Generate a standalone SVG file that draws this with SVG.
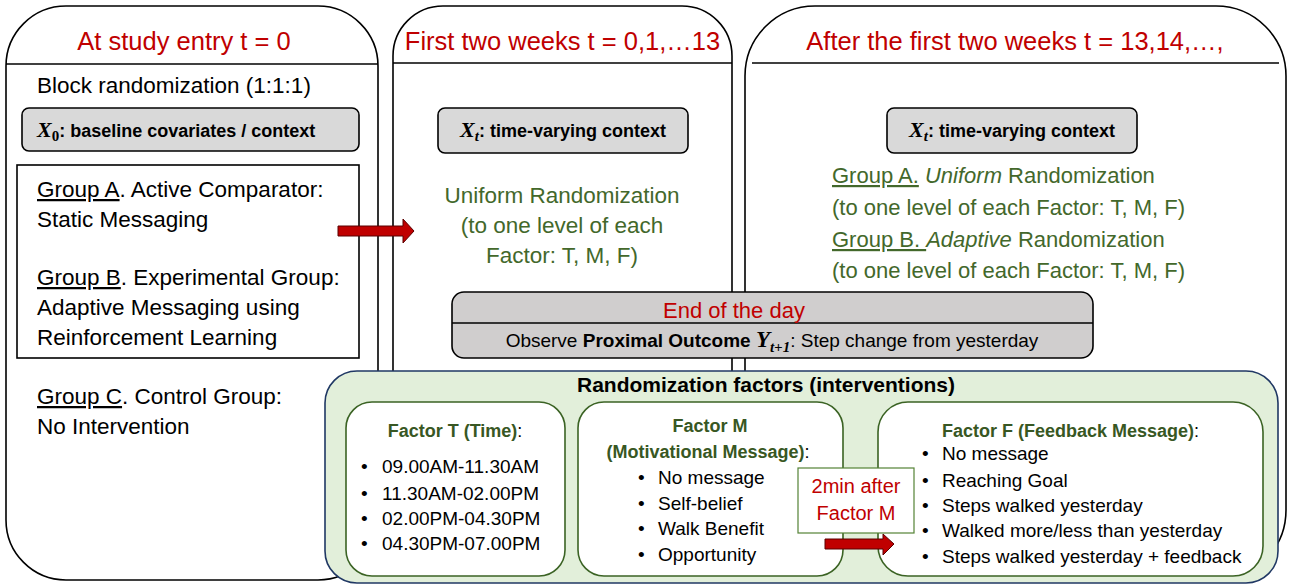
<svg xmlns="http://www.w3.org/2000/svg" width="1295" height="585" viewBox="0 0 1295 585">
<style>
text{font-family:"Liberation Sans",Arial,sans-serif;fill:#000}
.panel{fill:none;stroke:#000;stroke-width:1.6}
.hline{stroke:#000;stroke-width:1.6}
.title{font-size:25.5px;fill:#C00000}
.body{font-size:22.5px}
.gbox{fill:#D9D9D9;stroke:#000;stroke-width:1.6}
.gb{font-size:18px;font-weight:bold}
.math{font-family:"Liberation Serif","Times New Roman",serif;font-weight:bold;font-style:italic}
.sub{font-size:15px}
.grn{fill:#43682B}
.u{text-decoration:underline}
.fbox{fill:#fff;stroke:#3B6324;stroke-width:1.6}
.ft{font-size:18px;font-weight:bold;fill:#385723}
.li{font-size:19px}
.red{fill:#C00000}
.arrow{fill:#C00000;stroke:#5a0000;stroke-width:1}
</style>

<g id="panel-entry">
  <rect class="panel" x="6" y="6" width="372" height="574" rx="60"/>
  <line class="hline" x1="6" y1="64" x2="378" y2="64"/>
  <text class="title" x="184" y="50" text-anchor="middle">At study entry t = 0</text>
  <text class="body" x="37" y="93">Block randomization (1:1:1)</text>
  <rect class="gbox" x="22" y="108" width="337" height="43" rx="7"/>
  <text class="gb" x="37" y="137"><tspan class="math" font-size="22px">X</tspan><tspan class="sub" font-family="Liberation Serif,serif" dy="4">0</tspan><tspan dy="-4">: baseline covariates / context</tspan></text>
  <rect x="17" y="165" width="342" height="193" fill="none" stroke="#000" stroke-width="1.6"/>
  <text class="body" x="37" y="197"><tspan class="u">Group A</tspan>. Active Comparator:</text>
  <text class="body" x="37" y="227">Static Messaging</text>
  <text class="body" x="37" y="285"><tspan class="u">Group B</tspan>. Experimental Group:</text>
  <text class="body" x="37" y="315">Adaptive Messaging using</text>
  <text class="body" x="37" y="345">Reinforcement Learning</text>
  <text class="body" x="37" y="404"><tspan class="u">Group C</tspan>. Control Group:</text>
  <text class="body" x="37" y="434">No Intervention</text>
</g>

<g id="panel-first-two-weeks">
  <rect class="panel" x="393" y="6" width="339" height="574" rx="50"/>
  <line class="hline" x1="393" y1="63" x2="732" y2="63"/>
  <text class="title" x="562.5" y="50" text-anchor="middle">First two weeks t = 0,1,…13</text>
  <rect class="gbox" x="438" y="108" width="250" height="45" rx="7"/>
  <text class="gb" x="563" y="137" text-anchor="middle"><tspan class="math" font-size="22px">X</tspan><tspan class="math sub" dy="4">t</tspan><tspan dy="-4">: time-varying context</tspan></text>
  <text class="body grn" x="562" y="203" text-anchor="middle">Uniform Randomization</text>
  <text class="body grn" x="562" y="233" text-anchor="middle">(to one level of each</text>
  <text class="body grn" x="562" y="263" text-anchor="middle">Factor: T, M, F)</text>
</g>

<g id="panel-after-two-weeks">
  <rect class="panel" x="745" y="6" width="541" height="574" rx="70"/>
  <line class="hline" x1="752" y1="63" x2="1279" y2="63"/>
  <text class="title" x="1015" y="50" text-anchor="middle">After the first two weeks t = 13,14,…,</text>
  <rect class="gbox" x="887" y="108" width="250" height="45" rx="7"/>
  <text class="gb" x="1012" y="137" text-anchor="middle"><tspan class="math" font-size="22px">X</tspan><tspan class="math sub" dy="4">t</tspan><tspan dy="-4">: time-varying context</tspan></text>
  <text class="grn" font-size="22px" x="832" y="183"><tspan class="u">Group A.</tspan> <tspan font-style="italic">Uniform</tspan> Randomization</text>
  <text class="grn" font-size="22px" x="832" y="215">(to one level of each Factor: T, M, F)</text>
  <text class="grn" font-size="22px" x="832" y="247"><tspan class="u">Group B. </tspan><tspan font-style="italic">Adaptive</tspan> Randomization</text>
  <text class="grn" font-size="22px" x="832" y="278">(to one level of each Factor: T, M, F)</text>
</g>

<g id="end-of-day">
  <rect x="452" y="292" width="641" height="66" rx="12" fill="#D0CECE" stroke="#000" stroke-width="1.6"/>
  <line class="hline" x1="452" y1="323" x2="1093" y2="323"/>
  <text class="red" font-size="22px" x="663" y="318">End of the day</text>
  <text font-size="19px" x="772" y="347" text-anchor="middle">Observe <tspan font-weight="bold">Proximal Outcome </tspan><tspan class="math" font-size="23px">Y</tspan><tspan class="math" font-size="15px" dy="5">t+1</tspan><tspan dy="-5">: Step change from yesterday</tspan></text>
</g>

<g id="randomization-factors">
  <rect x="325" y="371" width="953" height="212" rx="32" fill="#E2EFDA" stroke="#203864" stroke-width="1.6"/>
  <text font-size="21px" font-weight="bold" x="766" y="392" text-anchor="middle">Randomization factors (interventions)</text>
</g>

<g id="factor-t">
  <rect class="fbox" x="346" y="402" width="219" height="174" rx="26"/>
  <text class="ft" x="455" y="437" text-anchor="middle">Factor T (Time)<tspan font-weight="normal" fill="#000">:</tspan></text>
  <text class="li" x="361" y="473">•</text><text class="li" x="382" y="473">09.00AM-11.30AM</text>
  <text class="li" x="361" y="500">•</text><text class="li" x="382" y="500">11.30AM-02.00PM</text>
  <text class="li" x="361" y="525">•</text><text class="li" x="382" y="525">02.00PM-04.30PM</text>
  <text class="li" x="361" y="550">•</text><text class="li" x="382" y="550">04.30PM-07.00PM</text>
</g>

<g id="factor-m">
  <rect class="fbox" x="578" y="402" width="265" height="174" rx="26"/>
  <text class="ft" x="710" y="432" text-anchor="middle">Factor M</text>
  <text class="ft" x="708" y="458" text-anchor="middle">(Motivational Message)<tspan font-weight="normal" fill="#000">:</tspan></text>
  <text class="li" x="638" y="484">•</text><text class="li" x="658" y="484">No message</text>
  <text class="li" x="638" y="510">•</text><text class="li" x="658" y="510">Self-belief</text>
  <text class="li" x="638" y="535">•</text><text class="li" x="658" y="535">Walk Benefit</text>
  <text class="li" x="638" y="561">•</text><text class="li" x="658" y="561">Opportunity</text>
</g>

<g id="factor-f">
  <rect class="fbox" x="878" y="402" width="385" height="174" rx="30"/>
  <text class="ft" x="942" y="437">Factor F (Feedback Message)<tspan font-weight="normal" fill="#000">:</tspan></text>
  <text class="li" x="922" y="460">•</text><text class="li" x="942" y="460">No message</text>
  <text class="li" x="922" y="487">•</text><text class="li" x="942" y="487">Reaching Goal</text>
  <text class="li" x="922" y="512">•</text><text class="li" x="942" y="512">Steps walked yesterday</text>
  <text class="li" x="922" y="537">•</text><text class="li" x="942" y="537">Walked more/less than yesterday</text>
  <text class="li" x="922" y="563">•</text><text class="li" x="942" y="563">Steps walked yesterday + feedback</text>
</g>

<g id="delay-note">
  <rect x="798" y="468" width="116" height="65" fill="#fff" stroke="#548235" stroke-width="1.2"/>
  <text class="red" font-size="20px" x="856" y="493" text-anchor="middle">2min after</text>
  <text class="red" font-size="20px" x="856" y="520" text-anchor="middle">Factor M</text>
</g>

<g id="connectors">
  <polygon class="arrow" points="338,226 403,226 403,219 414,231 403,243 403,236 338,236"/>
  <polygon class="arrow" points="825,539 883,539 883,534 894,544 883,555 883,549 825,549"/>
</g>
</svg>
